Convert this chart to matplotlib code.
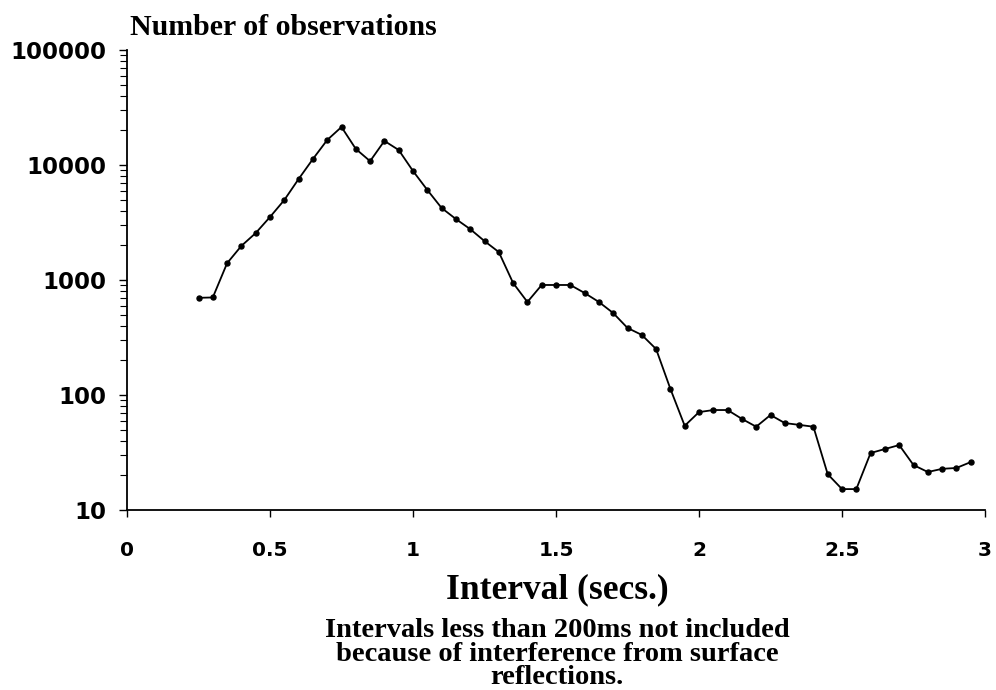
import matplotlib
matplotlib.use("Agg")
import matplotlib.pyplot as plt
from matplotlib.ticker import LogLocator, FixedLocator, NullFormatter

interval = [0.25, 0.30, 0.35, 0.40, 0.45, 0.50, 0.55, 0.60, 0.65, 0.70,
            0.75, 0.80, 0.85, 0.90, 0.95, 1.00, 1.05, 1.10, 1.15, 1.20,
            1.25, 1.30, 1.35, 1.40, 1.45, 1.50, 1.55, 1.60, 1.65, 1.70,
            1.75, 1.80, 1.85, 1.90, 1.95, 2.00, 2.05, 2.10, 2.15, 2.20,
            2.25, 2.30, 2.35, 2.40, 2.45, 2.50, 2.55, 2.60, 2.65, 2.70,
            2.75, 2.80, 2.85, 2.90, 2.95]
observations = [700, 705, 1400, 1980, 2560, 3530, 4960, 7550, 11270, 16500,
                21400, 13800, 10800, 16200, 13500, 8870, 6070, 4230, 3390, 2770,
                2180, 1750, 942, 644, 905, 905, 905, 771, 644, 516,
                383, 333, 251, 113, 54, 71, 74, 74, 62, 53,
                67, 57, 55, 53, 20.5, 15.2, 15.2, 31.3, 33.9, 36.7,
                24.6, 21.4, 22.8, 23.2, 26.1]

x_ticks = [0, 0.5, 1, 1.5, 2, 2.5, 3]
x_ticklabels = ["0", "0.5", "1", "1.5", "2", "2.5", "3"]
y_ticks = [10, 100, 1000, 10000, 100000]
y_ticklabels = ["10", "100", "1000", "10000", "100000"]

title_text = "Number of observations"
xlabel_text = "Interval (secs.)"
note_text = ("Intervals less than 200ms not included\n"
             "because of interference from surface\n"
             "reflections.")

W, H = 996, 690
fig = plt.figure(figsize=(W / 100, H / 100), dpi=100)
ax = fig.add_axes([127 / W, 1 - 510 / H, (985 - 127) / W, (510 - 50) / H])

ax.plot(interval, observations, color="black", linewidth=1.3,
        marker="o", markersize=3.6, markerfacecolor="black", markeredgecolor="black")

ax.set_yscale("log")
ax.set_xlim(0, 3)
ax.set_ylim(10, 100000)

ax.spines["top"].set_visible(False)
ax.spines["right"].set_visible(False)
for s in ("left", "bottom"):
    ax.spines[s].set_linewidth(1.3)

ax.xaxis.set_major_locator(FixedLocator(x_ticks))
ax.set_xticklabels(x_ticklabels)
ax.yaxis.set_major_locator(FixedLocator(y_ticks))
ax.set_yticklabels(y_ticklabels)
ax.yaxis.set_minor_locator(LogLocator(base=10, subs=range(2, 10)))
ax.yaxis.set_minor_formatter(NullFormatter())

for lab in ax.get_xticklabels():
    lab.set_fontfamily("DejaVu Sans")
    lab.set_fontweight("bold")
    lab.set_fontsize(14.5)
for lab in ax.get_yticklabels():
    lab.set_fontfamily("DejaVu Sans")
    lab.set_fontweight("bold")
    lab.set_fontsize(16.5)

ax.tick_params(axis="x", which="major", length=5, width=1, pad=17, direction="out")
ax.tick_params(axis="y", which="major", length=6, width=1, pad=8.5, direction="out")
ax.tick_params(axis="y", which="minor", length=5, width=0.8, direction="out")

fig.text(130 / W, 1 - 35 / H, title_text, family="Liberation Serif",
         weight="bold", size=21.5, ha="left", va="baseline")
fig.text(557 / W, 1 - 598 / H, xlabel_text, family="Liberation Serif",
         weight="bold", size=25.5, ha="center", va="baseline")
fig.text(557 / W, 1 - 618 / H, note_text, family="Liberation Serif",
         weight="bold", size=20.5, ha="center", va="top", multialignment="center",
         linespacing=0.93)

fig.savefig("out.png", dpi=100, facecolor="white")
